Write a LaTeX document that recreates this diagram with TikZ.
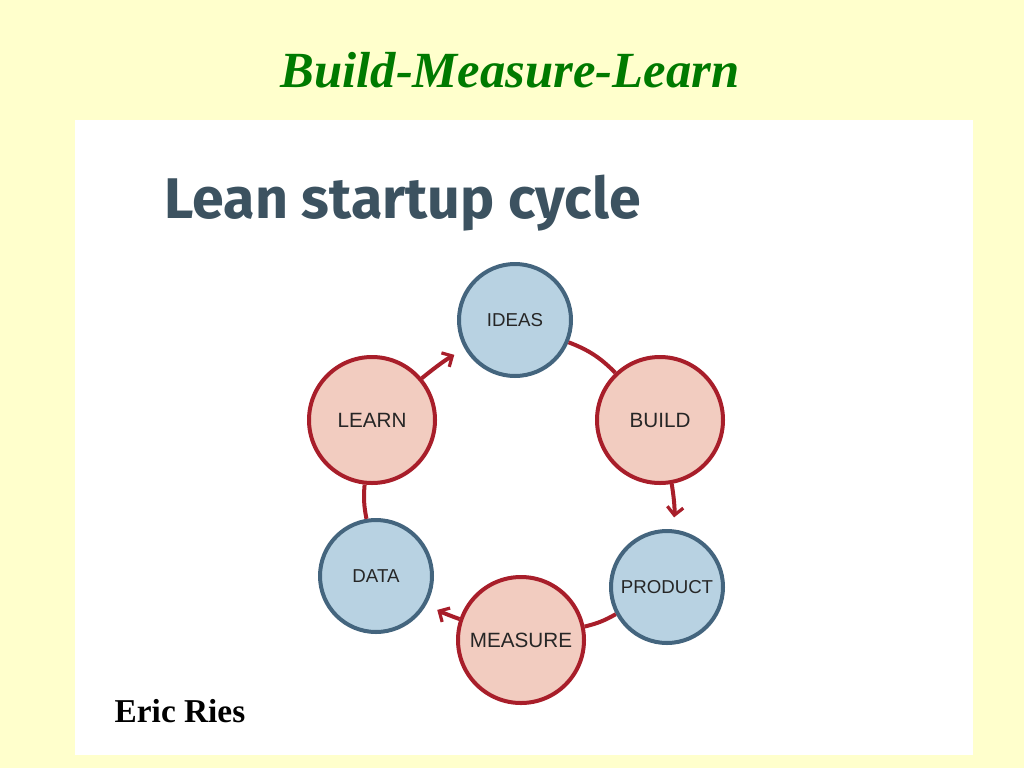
\documentclass[tikz,border=0pt]{standalone}
\usepackage{fontspec}
\setmainfont{Liberation Serif}
\newfontfamily\lab{Liberation Sans}
\newfontfamily\head{Fira Sans}
\usetikzlibrary{arrows.meta}
\definecolor{bg}{HTML}{FFFFCC}
\definecolor{bluef}{HTML}{B8D2E2}
\definecolor{bluel}{HTML}{44657E}
\definecolor{pinkf}{HTML}{F2CCC0}
\definecolor{redl}{HTML}{A81E2A}
\definecolor{headc}{HTML}{3C5260}
\definecolor{titlec}{HTML}{007A00}
\begin{document}
\begin{tikzpicture}[x=0.75pt,y=-0.75pt,
  bc/.style={circle,draw=bluel,fill=bluef,line width=3pt,minimum size=112*0.75pt,inner sep=0pt,font=\lab\fontsize{14}{16}\selectfont,text=black!85},
  pc/.style={circle,draw=redl,fill=pinkf,line width=3pt,minimum size=126*0.75pt,inner sep=0pt,font=\lab\fontsize{15.5}{17}\selectfont,text=black!85},
  link/.style={draw=redl,line width=3pt},
  arr/.style={link,-{Straight Barb[length=6pt,width=12pt,line width=2.4pt]},shorten >=9pt}]
\fill[bg] (0,0) rectangle (1024,768);
\fill[white] (75,120) rectangle (973,755);
\node[font=\bfseries\itshape\fontsize{38}{42}\selectfont,text=titlec] (title) at (510,70) {Build-Measure-Learn};
\node[font=\head\bfseries\fontsize{43}{48}\selectfont,text=headc,anchor=west] (sub) at (160,203) {Lean startup cycle};
\node[bc] (ideas) at (515,320) {IDEAS};
\node[pc] (build) at (660,420) {BUILD};
\node[bc] (product) at (667,587) {PRODUCT};
\node[pc] (measure) at (521,640) {MEASURE};
\node[bc] (data) at (376,576) {DATA};
\node[pc] (learn) at (372,420) {LEARN};
\draw[link] (ideas) to[bend left=12] (build);
\draw[arr] (build) to[bend left=8] (product);
\draw[link] (product) to[bend left=8] (measure);
\draw[arr] (measure) to[bend left=5] (data);
\draw[link] (data) to[bend left=8] (learn);
\draw[arr] (learn) to[bend left=5] (ideas);
\node[font=\bfseries\fontsize{25}{28}\selectfont,anchor=west] (author) at (110,711) {Eric Ries};
\end{tikzpicture}
\end{document}
